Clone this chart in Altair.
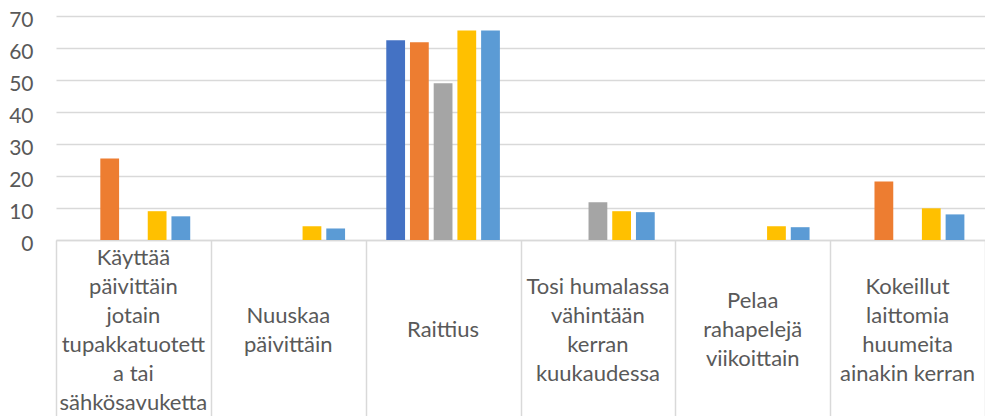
import altair as alt
import pandas as pd

categories = [
    "Käyttää\npäivittäin\njotain\ntupakkatuotett\na tai\nsähkösavuketta",
    "Nuuskaa\npäivittäin",
    "Raittius",
    "Tosi humalassa\nvähintään\nkerran\nkuukaudessa",
    "Pelaa\nrahapelejä\nviikoittain",
    "Kokeillut\nlaittomia\nhuumeita\nainakin kerran",
]
series = ["Sarja 1", "Sarja 2", "Sarja 3", "Sarja 4", "Sarja 5"]
colors = ["#4472C4", "#ED7D31", "#A5A5A5", "#FFC000", "#5B9BD5"]

s1 = [None, None, 62.4, None, None, None]
s2 = [25.5, None, 61.8, None, None, 18.3]
s3 = [None, None, 49.0, 11.8, None, None]
s4 = [9.0, 4.3, 65.5, 9.0, 4.3, 9.9]
s5 = [7.4, 3.6, 65.5, 8.7, 4.0, 8.0]

rows = []
for name, vals in zip(series, [s1, s2, s3, s4, s5]):
    for c, v in zip(categories, vals):
        rows.append({"kategoria": c, "sarja": name, "arvo": v})
df = pd.DataFrame(rows)
labels_df = pd.DataFrame({"kategoria": categories})

font = "Lato"
grey = "#595959"
line = "#d9d9d9"
line_h = 29

xenc = alt.X(
    "kategoria:N",
    sort=categories,
    title=None,
    scale=alt.Scale(paddingInner=0, paddingOuter=0),
    axis=alt.Axis(
        labels=False,
        tickBand="extent",
        tickSize=180,
        tickColor=line,
        tickWidth=1.5,
        domainColor=line,
        domainWidth=1.7,
        grid=False,
    ),
)

bars = alt.Chart(df).mark_bar().encode(
    x=xenc,
    xOffset=alt.XOffset(
        "sarja:N",
        sort=series,
        scale=alt.Scale(paddingInner=0.208, paddingOuter=0.869),
    ),
    y=alt.Y(
        "arvo:Q",
        title=None,
        scale=alt.Scale(domain=[0, 70], nice=False),
        axis=alt.Axis(
            values=[0, 10, 20, 30, 40, 50, 60, 70],
            domain=False,
            ticks=False,
            labelPadding=23,
            labelOffset=4,
            labelFont=font,
            labelFontSize=21,
            labelColor=grey,
            gridColor=line,
            gridWidth=1.3,
        ),
    ),
    color=alt.Color(
        "sarja:N",
        sort=series,
        scale=alt.Scale(domain=series, range=colors),
        legend=None,
    ),
)

texts = alt.Chart(labels_df).transform_calculate(
    rivit="split(datum.kategoria, '\\n')"
).transform_calculate(
    ypos=f"314 - (length(datum.rivit) - 1) * {line_h} / 2"
).mark_text(
    font=font,
    fontSize=22,
    color=grey,
    baseline="middle",
    align="center",
    lineHeight=line_h,
).encode(
    x=alt.X("kategoria:N", sort=categories),
    y=alt.Y("ypos:Q", scale=None, axis=None),
    text="rivit:N",
)

chart = alt.layer(bars, texts).properties(
    width=929,
    height=224,
    autosize=alt.AutoSizeParams(type="none"),
    padding={"left": 48, "top": 8, "right": 0, "bottom": 176},
).configure_view(stroke=None)

chart.save("out.html", embed_options={"renderer": "svg", "actions": False})
